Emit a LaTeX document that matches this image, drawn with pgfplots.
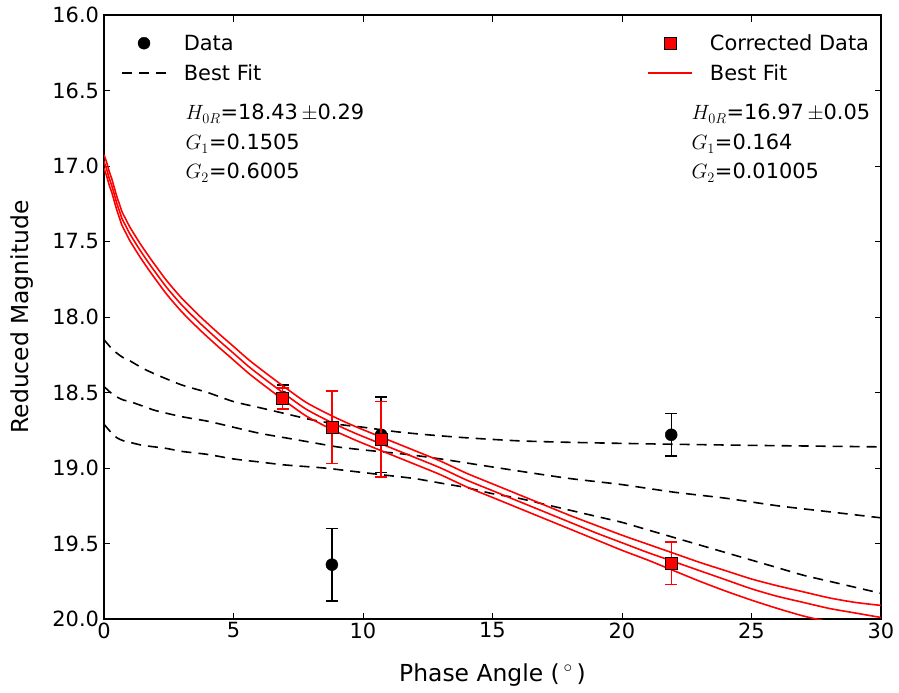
\documentclass[border=0pt]{standalone}
\usepackage{fontspec}
\setmainfont{DejaVu Sans}
\usepackage{pgfplots}
\pgfplotsset{compat=1.18}
\usetikzlibrary{calc}

\pgfplotsset{
  base/.style={
    scale only axis, width=777bp, height=604bp,
    xmin=0, xmax=30, ymin=16, ymax=20, y dir=reverse,
    xtick={0,5,10,15,20,25,30},
    ytick={16,16.5,17,17.5,18,18.5,19,19.5,20},
    /pgf/number format/assume math mode=true,
    xticklabel style={font=\fontsize{21}{25}\selectfont},
    yticklabel style={font=\fontsize{21}{25}\selectfont, xshift=-1.5bp,
      /pgf/number format/fixed, /pgf/number format/fixed zerofill,
      /pgf/number format/precision=1},
    tick align=inside, major tick length=6.5bp,
    tick style={line width=1bp, black},
    axis line style={line width=1.3bp},
    minor tick num=0,
    legend cell align=left,
    legend style={draw=none, fill=none, inner sep=0pt, row sep=15bp, column sep=17bp,
      font=\fontsize{21}{25}\selectfont,
      nodes={inner sep=0pt, text height=15bp, text depth=0bp}},
    legend image code/.code={\draw[mark repeat=2, mark phase=2, #1]
      plot coordinates {(0bp,0bp) (22bp,0bp) (44bp,0bp)};},
  },
  fit/.style={line width=1.6bp, smooth, tension=0.4},
}

\begin{document}
\begin{tikzpicture}[font=\fontsize{21}{25}\selectfont]
\begin{axis}[base,
  xlabel={Phase Angle (\,$^\circ$\,)}, ylabel={Reduced Magnitude},
  every axis x label/.style={at={(rel axis cs:0.5,0)}, yshift=-56bp, anchor=center,
    font=\fontsize{23.5}{27}\selectfont},
  every axis y label/.style={at={(rel axis cs:0,0.5)}, xshift=-82bp, rotate=90, anchor=center,
    font=\fontsize{23.5}{27}\selectfont},
  legend style={at={(rel axis cs:0.0219,0.966)}, anchor=north west}]

\addplot[black, only marks, mark=*, mark size=6bp,
  error bars/.cd, y dir=both, y explicit,
  error bar style={line width=1.3bp, black},
  error mark options={rotate=90, mark size=6bp, line width=1.3bp, black}]
  table[y error=e] {
x    y     e
6.9  18.53 0.08
8.8  19.64 0.24
10.7 18.78 0.25
21.9 18.78 0.14
};
\addlegendentry{Data}

\addplot[black, fit, dash pattern=on 10bp off 7bp] coordinates {
(0,18.15) (0.25,18.20) (0.5,18.24) (0.75,18.27) (1,18.29) (1.5,18.34) (2,18.38)
(3,18.45) (4,18.50) (5,18.56) (6,18.60) (7,18.64) (8,18.68) (9,18.71) (10,18.73)
(11.3,18.76) (12.5,18.78) (14,18.80) (16,18.82) (18,18.83) (21,18.84) (25,18.85) (30,18.86)};
\addlegendentry{Best Fit}

\addplot[black, fit, dash pattern=on 10bp off 7bp, forget plot] coordinates {
(0,18.46) (0.25,18.50) (0.5,18.53) (0.75,18.55) (1,18.56) (1.5,18.59) (2,18.62)
(3,18.66) (4,18.69) (5,18.73) (6,18.77) (7,18.80) (8,18.83) (9,18.86) (10,18.88)
(11.7,18.91) (13,18.94) (14.5,18.98) (16.4,19.03) (18,19.07) (20,19.11) (22,19.16)
(24,19.20) (26,19.25) (28,19.29) (30,19.33)};

\addplot[black, fit, dash pattern=on 10bp off 7bp, forget plot] coordinates {
(0,18.71) (0.25,18.76) (0.5,18.80) (0.75,18.82) (1,18.83) (1.5,18.85) (2.4,18.87)
(3,18.89) (4,18.91) (5,18.94) (6,18.96) (7,18.98) (8.5,19.00) (10,19.03) (11,19.05)
(12,19.07) (13,19.10) (14,19.13) (15,19.17) (16,19.20) (17,19.24) (18,19.28)
(19,19.32) (20,19.36) (21,19.41) (22,19.46) (23,19.51) (24,19.56) (25,19.61)
(26,19.66) (27,19.71) (28,19.75) (29,19.79) (30,19.83)};

\node[anchor=base west] at (rel axis cs:0.1004,0.8262) {$H_{0R}$=18.43\,$\pm$0.29};
\node[anchor=base west] at (rel axis cs:0.1004,0.7765) {$G_1$=0.1505};
\node[anchor=base west] at (rel axis cs:0.1004,0.7285) {$G_2$=0.6005};
\node[anchor=base west] at (rel axis cs:0.7516,0.8262) {$H_{0R}$=16.97\,$\pm$0.05};
\node[anchor=base west] at (rel axis cs:0.7516,0.7765) {$G_1$=0.164};
\node[anchor=base west] at (rel axis cs:0.7516,0.7285) {$G_2$=0.01005};
\end{axis}

\begin{axis}[base, hide axis,
  legend style={at={(rel axis cs:0.699,0.966)}, anchor=north west}]

\addplot[red, only marks, mark=square*, mark size=6bp,
  mark options={fill=red, draw=black, line width=0.8bp},
  error bars/.cd, y dir=both, y explicit,
  error bar style={line width=1.3bp, red},
  error mark options={rotate=90, mark size=6bp, line width=1.3bp, red}]
  table[y error=e] {
x    y     e
6.9  18.54 0.07
8.8  18.73 0.24
10.7 18.81 0.25
21.9 19.63 0.14
};
\addlegendentry{Corrected Data}

\addplot[red, fit] coordinates {
(0,16.97) (0.1,17.02) (0.2,17.08) (0.3,17.13) (0.4,17.19) (0.5,17.25) (0.6,17.30)
(0.7,17.35) (0.85,17.40) (1.0,17.45) (1.4,17.56) (1.8,17.66) (2.4,17.80) (3.0,17.92)
(3.7,18.04) (4.4,18.15) (5.0,18.24) (5.6,18.33) (6.2,18.41) (6.9,18.50) (7.8,18.61)
(8.8,18.70) (9.7,18.77) (10.7,18.84) (12,18.93) (13,19.00) (14,19.08) (15,19.15)
(16,19.22) (17,19.29) (18,19.36) (19,19.43) (20,19.495) (21,19.56) (22,19.62)
(23,19.68) (24,19.74) (25,19.80) (26,19.85) (27,19.89) (28,19.93) (29,19.96) (30,19.99)};
\addlegendentry{Best Fit}

\addplot[red, fit, forget plot] coordinates {
(0,16.925) (0.1,16.975) (0.2,17.035) (0.3,17.085) (0.4,17.145) (0.5,17.205) (0.6,17.255)
(0.7,17.305) (0.85,17.355) (1.0,17.405) (1.4,17.515) (1.8,17.615) (2.4,17.755) (3.0,17.875)
(3.7,17.995) (4.4,18.105) (5.0,18.195) (5.6,18.285) (6.2,18.365) (6.9,18.455) (7.8,18.565)
(8.8,18.655) (9.7,18.725) (10.7,18.795) (12,18.885) (13,18.955) (14,19.035) (15,19.105)
(16,19.175) (17,19.245) (18,19.315) (19,19.38) (20,19.445) (21,19.505) (22,19.565)
(23,19.625) (24,19.68) (25,19.735) (26,19.78) (27,19.82) (28,19.86) (29,19.89) (30,19.91)};

\addplot[red, fit, forget plot] coordinates {
(0,17.015) (0.1,17.065) (0.2,17.125) (0.3,17.175) (0.4,17.235) (0.5,17.295) (0.6,17.345)
(0.7,17.395) (0.85,17.445) (1.0,17.495) (1.4,17.605) (1.8,17.705) (2.4,17.845) (3.0,17.965)
(3.7,18.085) (4.4,18.195) (5.0,18.285) (5.6,18.375) (6.2,18.455) (6.9,18.545) (7.8,18.655)
(8.8,18.745) (9.7,18.815) (10.7,18.885) (12,18.975) (13,19.045) (14,19.125) (15,19.195)
(16,19.265) (17,19.335) (18,19.405) (19,19.475) (20,19.545) (21,19.61) (22,19.68)
(23,19.75) (24,19.815) (25,19.875) (26,19.93) (27,19.98) (28,20.02) (29,20.06) (30,20.09)};
\end{axis}

\path ($(current axis.south west)+(-104bp,-74bp)$) rectangle ($(current axis.north east)+(18bp,15bp)$);
\end{tikzpicture}
\end{document}
